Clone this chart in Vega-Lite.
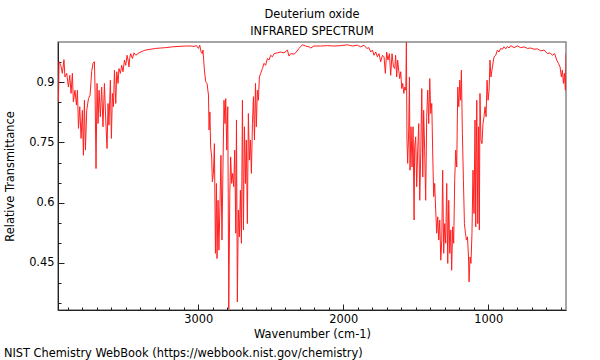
{
"$schema": "https://vega.github.io/schema/vega-lite/v6.json",
"background": "white",
"padding": {"left": 3, "top": 7, "right": 5, "bottom": 2},
"config": {"font": "DejaVu Sans", "view": {"stroke": "#888888", "strokeWidth": 1.5}},
"title": {"text": "NIST Chemistry WebBook (https://webbook.nist.gov/chemistry)", "orient": "bottom", "anchor": "start", "frame": "bounds", "fontSize": 11.4, "fontWeight": "normal", "color": "#000000", "offset": 7},
"vconcat": [{
"width": 508, "height": 268,
"title": {"text": ["Deuterium oxide", "INFRARED SPECTRUM"], "fontSize": 11.4, "fontWeight": "normal", "lineHeight": 17, "anchor": "middle", "offset": 5, "color": "#000000"},
"data": {"values": [
{"wn":3963,"t":0.851},{"wn":3959,"t":0.951},{"wn":3947,"t":0.942},{"wn":3936,"t":0.922},{"wn":3925,"t":0.956},{"wn":3918,"t":0.913},{"wn":3906,"t":0.922},{"wn":3894,"t":0.888},{"wn":3885,"t":0.917},{"wn":3876,"t":0.872},{"wn":3867,"t":0.922},{"wn":3860,"t":0.851},{"wn":3849,"t":0.880},{"wn":3839,"t":0.843},{"wn":3832,"t":0.880},{"wn":3825,"t":0.785},{"wn":3816,"t":0.839},{"wn":3807,"t":0.760},{"wn":3798,"t":0.830},{"wn":3791,"t":0.718},{"wn":3784,"t":0.855},{"wn":3777,"t":0.731},{"wn":3768,"t":0.830},{"wn":3756,"t":0.859},{"wn":3745,"t":0.868},{"wn":3734,"t":0.926},{"wn":3725,"t":0.947},{"wn":3715,"t":0.951},{"wn":3711,"t":0.888},{"wn":3704,"t":0.685},{"wn":3697,"t":0.897},{"wn":3690,"t":0.797},{"wn":3683,"t":0.880},{"wn":3674,"t":0.814},{"wn":3665,"t":0.888},{"wn":3656,"t":0.789},{"wn":3646,"t":0.897},{"wn":3637,"t":0.806},{"wn":3628,"t":0.735},{"wn":3621,"t":0.847},{"wn":3615,"t":0.793},{"wn":3605,"t":0.905},{"wn":3598,"t":0.760},{"wn":3591,"t":0.872},{"wn":3584,"t":0.839},{"wn":3577,"t":0.930},{"wn":3568,"t":0.847},{"wn":3561,"t":0.926},{"wn":3552,"t":0.897},{"wn":3546,"t":0.934},{"wn":3536,"t":0.922},{"wn":3527,"t":0.942},{"wn":3518,"t":0.926},{"wn":3508,"t":0.955},{"wn":3499,"t":0.942},{"wn":3490,"t":0.967},{"wn":3481,"t":0.951},{"wn":3477,"t":0.938},{"wn":3472,"t":0.959},{"wn":3465,"t":0.971},{"wn":3453,"t":0.959},{"wn":3442,"t":0.973},{"wn":3430,"t":0.967},{"wn":3408,"t":0.973},{"wn":3384,"t":0.977},{"wn":3362,"t":0.980},{"wn":3327,"t":0.982},{"wn":3293,"t":0.984},{"wn":3258,"t":0.985},{"wn":3224,"t":0.986},{"wn":3178,"t":0.988},{"wn":3132,"t":0.989},{"wn":3086,"t":0.990},{"wn":3051,"t":0.990},{"wn":3029,"t":0.989},{"wn":3012,"t":0.991},{"wn":2998,"t":0.984},{"wn":2989,"t":0.992},{"wn":2980,"t":0.975},{"wn":2971,"t":0.971},{"wn":2967,"t":0.980},{"wn":2962,"t":0.955},{"wn":2957,"t":0.930},{"wn":2948,"t":0.901},{"wn":2939,"t":0.897},{"wn":2929,"t":0.868},{"wn":2925,"t":0.781},{"wn":2919,"t":0.826},{"wn":2914,"t":0.739},{"wn":2907,"t":0.714},{"wn":2902,"t":0.652},{"wn":2895,"t":0.673},{"wn":2888,"t":0.747},{"wn":2881,"t":0.474},{"wn":2874,"t":0.648},{"wn":2870,"t":0.461},{"wn":2863,"t":0.606},{"wn":2857,"t":0.482},{"wn":2850,"t":0.590},{"wn":2843,"t":0.718},{"wn":2836,"t":0.507},{"wn":2829,"t":0.689},{"wn":2822,"t":0.855},{"wn":2815,"t":0.797},{"wn":2810,"t":0.859},{"wn":2803,"t":0.731},{"wn":2796,"t":0.839},{"wn":2789,"t":0.335},{"wn":2782,"t":0.623},{"wn":2776,"t":0.714},{"wn":2769,"t":0.648},{"wn":2762,"t":0.673},{"wn":2755,"t":0.640},{"wn":2748,"t":0.731},{"wn":2741,"t":0.524},{"wn":2736,"t":0.806},{"wn":2730,"t":0.353},{"wn":2723,"t":0.582},{"wn":2716,"t":0.515},{"wn":2709,"t":0.631},{"wn":2702,"t":0.499},{"wn":2695,"t":0.855},{"wn":2688,"t":0.532},{"wn":2681,"t":0.789},{"wn":2674,"t":0.648},{"wn":2668,"t":0.756},{"wn":2661,"t":0.548},{"wn":2654,"t":0.822},{"wn":2647,"t":0.706},{"wn":2640,"t":0.756},{"wn":2633,"t":0.673},{"wn":2626,"t":0.797},{"wn":2619,"t":0.864},{"wn":2612,"t":0.756},{"wn":2605,"t":0.897},{"wn":2599,"t":0.789},{"wn":2592,"t":0.880},{"wn":2585,"t":0.855},{"wn":2578,"t":0.913},{"wn":2569,"t":0.922},{"wn":2557,"t":0.934},{"wn":2546,"t":0.947},{"wn":2535,"t":0.942},{"wn":2523,"t":0.959},{"wn":2512,"t":0.955},{"wn":2500,"t":0.967},{"wn":2488,"t":0.963},{"wn":2477,"t":0.971},{"wn":2454,"t":0.973},{"wn":2431,"t":0.975},{"wn":2408,"t":0.973},{"wn":2385,"t":0.980},{"wn":2374,"t":0.965},{"wn":2362,"t":0.971},{"wn":2339,"t":0.970},{"wn":2328,"t":0.973},{"wn":2305,"t":0.984},{"wn":2282,"t":0.993},{"wn":2259,"t":0.990},{"wn":2236,"t":0.988},{"wn":2224,"t":0.985},{"wn":2202,"t":0.990},{"wn":2155,"t":0.990},{"wn":2109,"t":0.991},{"wn":2064,"t":0.990},{"wn":2018,"t":0.991},{"wn":1971,"t":0.993},{"wn":1937,"t":0.990},{"wn":1903,"t":0.992},{"wn":1880,"t":0.988},{"wn":1857,"t":0.992},{"wn":1838,"t":0.984},{"wn":1823,"t":0.986},{"wn":1811,"t":0.975},{"wn":1799,"t":0.980},{"wn":1788,"t":0.967},{"wn":1776,"t":0.975},{"wn":1765,"t":0.963},{"wn":1754,"t":0.971},{"wn":1742,"t":0.951},{"wn":1730,"t":0.967},{"wn":1719,"t":0.963},{"wn":1710,"t":0.922},{"wn":1701,"t":0.975},{"wn":1692,"t":0.955},{"wn":1682,"t":0.971},{"wn":1673,"t":0.917},{"wn":1664,"t":0.971},{"wn":1654,"t":0.938},{"wn":1645,"t":0.934},{"wn":1639,"t":0.967},{"wn":1632,"t":0.913},{"wn":1625,"t":0.955},{"wn":1618,"t":0.930},{"wn":1611,"t":0.909},{"wn":1604,"t":0.926},{"wn":1597,"t":0.884},{"wn":1590,"t":0.897},{"wn":1583,"t":0.872},{"wn":1576,"t":0.888},{"wn":1569,"t":0.880},{"wn":1565,"t":1.0},{"wn":1561,"t":0.756},{"wn":1556,"t":0.698},{"wn":1549,"t":0.781},{"wn":1544,"t":0.913},{"wn":1540,"t":0.681},{"wn":1533,"t":0.789},{"wn":1526,"t":0.689},{"wn":1519,"t":0.789},{"wn":1512,"t":0.557},{"wn":1508,"t":0.739},{"wn":1501,"t":0.764},{"wn":1494,"t":0.640},{"wn":1487,"t":0.731},{"wn":1480,"t":0.797},{"wn":1473,"t":0.606},{"wn":1466,"t":0.723},{"wn":1459,"t":0.884},{"wn":1452,"t":0.664},{"wn":1446,"t":0.830},{"wn":1439,"t":0.731},{"wn":1432,"t":0.606},{"wn":1425,"t":0.814},{"wn":1418,"t":0.880},{"wn":1411,"t":0.797},{"wn":1404,"t":0.909},{"wn":1397,"t":0.822},{"wn":1390,"t":0.847},{"wn":1384,"t":0.731},{"wn":1377,"t":0.615},{"wn":1370,"t":0.648},{"wn":1363,"t":0.582},{"wn":1356,"t":0.524},{"wn":1349,"t":0.565},{"wn":1342,"t":0.507},{"wn":1335,"t":0.557},{"wn":1328,"t":0.457},{"wn":1321,"t":0.507},{"wn":1315,"t":0.681},{"wn":1308,"t":0.474},{"wn":1301,"t":0.548},{"wn":1294,"t":0.499},{"wn":1287,"t":0.648},{"wn":1280,"t":0.449},{"wn":1273,"t":0.606},{"wn":1266,"t":0.474},{"wn":1259,"t":0.532},{"wn":1253,"t":0.432},{"wn":1246,"t":0.540},{"wn":1239,"t":0.499},{"wn":1232,"t":0.656},{"wn":1225,"t":0.731},{"wn":1218,"t":0.689},{"wn":1211,"t":0.888},{"wn":1204,"t":0.839},{"wn":1197,"t":0.905},{"wn":1191,"t":0.855},{"wn":1186,"t":0.930},{"wn":1179,"t":0.772},{"wn":1172,"t":0.656},{"wn":1165,"t":0.548},{"wn":1158,"t":0.524},{"wn":1151,"t":0.507},{"wn":1144,"t":0.515},{"wn":1137,"t":0.465},{"wn":1133,"t":0.403},{"wn":1126,"t":0.465},{"wn":1120,"t":0.449},{"wn":1113,"t":0.524},{"wn":1106,"t":0.681},{"wn":1099,"t":0.573},{"wn":1092,"t":0.806},{"wn":1087,"t":0.540},{"wn":1080,"t":0.855},{"wn":1073,"t":0.548},{"wn":1067,"t":0.789},{"wn":1062,"t":0.532},{"wn":1058,"t":0.872},{"wn":1051,"t":0.756},{"wn":1044,"t":0.747},{"wn":1037,"t":0.797},{"wn":1030,"t":0.814},{"wn":1023,"t":0.839},{"wn":1016,"t":0.814},{"wn":1009,"t":0.905},{"wn":1002,"t":0.855},{"wn":995,"t":0.880},{"wn":989,"t":0.955},{"wn":982,"t":0.913},{"wn":972,"t":0.938},{"wn":961,"t":0.963},{"wn":949,"t":0.967},{"wn":938,"t":0.980},{"wn":927,"t":0.975},{"wn":915,"t":0.984},{"wn":903,"t":0.982},{"wn":892,"t":0.988},{"wn":880,"t":0.983},{"wn":869,"t":0.989},{"wn":858,"t":0.985},{"wn":846,"t":0.991},{"wn":823,"t":0.986},{"wn":800,"t":0.990},{"wn":777,"t":0.986},{"wn":754,"t":0.988},{"wn":731,"t":0.984},{"wn":708,"t":0.985},{"wn":685,"t":0.982},{"wn":662,"t":0.983},{"wn":639,"t":0.978},{"wn":616,"t":0.980},{"wn":593,"t":0.971},{"wn":575,"t":0.973},{"wn":559,"t":0.967},{"wn":543,"t":0.971},{"wn":529,"t":0.955},{"wn":517,"t":0.947},{"wn":506,"t":0.938},{"wn":497,"t":0.913},{"wn":490,"t":0.930},{"wn":483,"t":0.897},{"wn":476,"t":0.922},{"wn":469,"t":0.880},{"wn":465,"t":0.971}
]},
"layer": [
{"mark": {"type": "line", "strokeOpacity": 0},
 "encoding": {
  "x": {"field": "wn", "type": "quantitative", "scale": {"domain": [3966, 465], "nice": false, "zero": false},
   "axis": {"orient": "bottom", "values": [3900,3800,3700,3600,3500,3400,3300,3200,3100,2900,2800,2700,2600,2500,2400,2300,2200,2100,1900,1800,1700,1600,1500,1400,1300,1200,1100,900,800,700,600,500], "labels": false, "tickSize": -3, "tickWidth": 1, "tickColor": "#222222", "domain": false, "grid": false, "title": null}},
  "y": {"field": "t", "type": "quantitative", "scale": {"domain": [0.333, 1.0], "nice": false, "zero": false},
   "axis": {"orient": "left", "values": [0.35,0.4,0.5,0.55,0.65,0.7,0.8,0.85,0.95], "labels": false, "tickSize": -3, "tickWidth": 1, "tickColor": "#222222", "domain": false, "grid": false, "title": null}}
 }},
{"mark": {"type": "line", "color": "#ff2020", "strokeWidth": 1, "clip": true},
 "encoding": {
  "x": {"field": "wn", "type": "quantitative",
   "axis": {"orient": "bottom", "values": [3000, 2000, 1000], "format": "d", "tickSize": -6, "tickWidth": 1, "tickColor": "#222222", "domainColor": "#222222", "grid": false, "labelPadding": 9, "labelFontSize": 11.4, "labelColor": "#000000", "title": "Wavenumber (cm-1)", "titleFontSize": 11.4, "titleFontWeight": "normal", "titleColor": "#000000", "titlePadding": 4}},
  "y": {"field": "t", "type": "quantitative",
   "axis": {"orient": "left", "values": [0.45, 0.6, 0.75, 0.9], "format": ".2~f", "tickSize": -6, "tickWidth": 1, "tickColor": "#222222", "domainColor": "#222222", "grid": false, "labelPadding": 10, "labelFontSize": 11.4, "labelColor": "#000000", "title": "Relative Transmittance", "titleFontSize": 11.4, "titleFontWeight": "normal", "titleColor": "#000000", "titlePadding": 13}}
 }}
],
"resolve": {"axis": {"x": "independent", "y": "independent"}}
}]
}
